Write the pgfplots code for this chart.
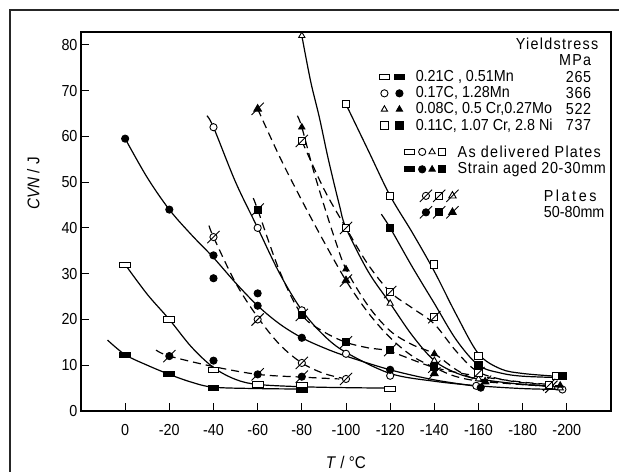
\documentclass[border=0pt]{standalone}
\usepackage{fontspec}
\setmainfont{Liberation Sans}[FakeStretch=0.9]
\newfontfamily\spacedA{Liberation Sans}[FakeStretch=0.9, LetterSpace=8]
\newfontfamily\spacedB{Liberation Sans}[FakeStretch=0.9, LetterSpace=4]
\newfontfamily\spacedC{Liberation Sans}[FakeStretch=0.9, LetterSpace=16]
\usepackage{pgfplots}
\pgfplotsset{compat=1.18}

% wide rectangle (0.21C) and slashed marks for the thick plates
\pgfdeclareplotmark{wrect}{%
  \pgfpathrectangle{\pgfqpoint{-1.5\pgfplotmarksize}{-0.7\pgfplotmarksize}}{\pgfqpoint{3\pgfplotmarksize}{1.4\pgfplotmarksize}}%
  \pgfusepathqfillstroke}
\pgfdeclareplotmark{scirc}{%
  \pgfpathcircle{\pgfpointorigin}{\pgfplotmarksize}\pgfusepathqfillstroke
  \pgfpathmoveto{\pgfqpoint{-1.7\pgfplotmarksize}{-1.7\pgfplotmarksize}}%
  \pgfpathlineto{\pgfqpoint{1.7\pgfplotmarksize}{1.7\pgfplotmarksize}}%
  \pgfusepathqstroke}
\pgfdeclareplotmark{ssq}{%
  \pgfpathrectangle{\pgfqpoint{-\pgfplotmarksize}{-\pgfplotmarksize}}{\pgfqpoint{2\pgfplotmarksize}{2\pgfplotmarksize}}%
  \pgfusepathqfillstroke
  \pgfpathmoveto{\pgfqpoint{-1.7\pgfplotmarksize}{-1.7\pgfplotmarksize}}%
  \pgfpathlineto{\pgfqpoint{1.7\pgfplotmarksize}{1.7\pgfplotmarksize}}%
  \pgfusepathqstroke}
\pgfdeclareplotmark{stri}{%
  \pgfpathmoveto{\pgfqpoint{0pt}{1.2\pgfplotmarksize}}%
  \pgfpathlineto{\pgfqpoint{-1.05\pgfplotmarksize}{-0.6\pgfplotmarksize}}%
  \pgfpathlineto{\pgfqpoint{1.05\pgfplotmarksize}{-0.6\pgfplotmarksize}}%
  \pgfpathclose\pgfusepathqfillstroke
  \pgfpathmoveto{\pgfqpoint{-1.7\pgfplotmarksize}{-1.7\pgfplotmarksize}}%
  \pgfpathlineto{\pgfqpoint{1.7\pgfplotmarksize}{1.7\pgfplotmarksize}}%
  \pgfusepathqstroke}

\pgfplotsset{
  sol/.style={black, line width=1.2bp, smooth, tension=0.55, no marks},
  dsh/.style={black, line width=1.2bp, smooth, tension=0.55, no marks, dash pattern=on 8bp off 5bp},
  mo/.style={only marks, mark=#1, mark size=3.6bp, mark options={solid, fill=white, draw=black, line width=0.9bp}},
  mf/.style={only marks, mark=#1, mark size=3.6bp, mark options={solid, fill=black, draw=black, line width=0.9bp}},
}

\begin{document}
\begin{tikzpicture}[font=\fontsize{16}{18}\selectfont]
\useasboundingbox (0,0) rectangle (619bp,472bp);
\draw[line width=1.2bp, black!85] (10bp,0) -- (10bp,462bp) -- (619bp,462bp);
\begin{axis}[
  at={(81bp,61bp)}, anchor=south west,
  scale only axis, width=530bp, height=379bp,
  xmin=-220, xmax=20, x dir=reverse,
  ymin=0, ymax=82.8,
  xtick={0,-20,-40,-60,-80,-100,-120,-140,-160,-180,-200},
  xticklabels={0,-20,-40,-60,-80,-100,-120,-140,-160,-180,-200},
  ytick={0,10,20,30,40,50,60,70,80},
  yticklabels={0,10,20,30,40,50,60,70,80},
  xtick pos=bottom, ytick pos=left,
  tick align=inside, major tick length=8bp,
  every tick/.style={black, line width=0.9bp},
  axis line style={line width=1.1bp},
  tick label style={font=\fontsize{16}{18}\selectfont},
  xticklabel style={yshift=-10bp},
  label style={font=\fontsize{17}{19}\selectfont},
  xlabel={\textit{T} / °C},
  xlabel style={at={(axis description cs:0.5,0)}, anchor=center, yshift=-51bp},
  ylabel={\textit{CVN} / J},
  ylabel style={at={(axis description cs:-0.09,0.6)}, anchor=center},
  clip=false,
]
% ---- curves: solid = 20-30 mm plates, dashed = 50-80 mm plates
\addplot[sol] coordinates {(0,32)(-10,25.5)(-20,20)(-30,14)(-40,9.5)(-50,6.9)(-60,5.8)(-80,5.3)(-100,5.1)(-120,5)};
\addplot[sol] coordinates {(8,15.5)(0,12.3)(-10,10)(-20,8)(-30,6.3)(-40,5.2)(-60,4.9)(-80,4.8)};
\addplot[dsh] coordinates {(-14,13.3)(-20,12)(-40,9.7)(-60,8)(-80,7.4)(-97,7)};
\addplot[dsh] coordinates {(-38,40.5)(-40,38)(-50,28)(-60,20.5)(-70,14.5)(-80,10.5)(-90,8.2)(-100,7)};
\addplot[sol] coordinates {(0,59.5)(-10,51)(-20,44)(-30,38.5)(-40,33.5)(-50,28)(-60,23)(-70,19)(-80,16)(-90,13.8)(-100,12)(-120,9)(-140,6.8)(-162,5.2)};
\addplot[sol] coordinates {(-37,64.5)(-40,62)(-50,50)(-60,40)(-70,30)(-80,22)(-90,16.5)(-100,12.8)(-120,8.2)(-140,6.5)(-160,5.5)(-180,4.9)(-197,4.7)};
\addplot[sol] coordinates {(-80,82)(-84,72)(-88,64)(-92,55)(-97,45)(-100,40)(-110,30.5)(-120,23.5)(-130,16.5)(-140,11)(-150,8.3)(-160,7)(-180,5.8)(-197,5.3)};
\addplot[sol] coordinates {(-100,67)(-110,57)(-120,47)(-130,39)(-140,30.5)(-150,21)(-160,12.5)(-170,9.2)(-180,8.2)(-195,7.6)};
\addplot[sol] coordinates {(-116,43)(-120,40)(-130,31.5)(-140,23.5)(-150,15.5)(-160,10)(-170,8.3)(-180,7.6)(-197,7.3)};
\addplot[dsh] coordinates {(-80,59)(-90,48.5)(-100,40)(-110,32)(-120,26)(-130,22.5)(-140,19)(-150,13)(-160,8.5)(-175,6.5)(-193,5.7)};
\addplot[dsh] coordinates {(-78,64.5)(-80,62)(-85,53)(-90,45)(-95,37.5)(-100,31)(-110,23)(-120,17.5)(-130,14.5)(-140,12.5)(-150,9)(-160,6.8)(-180,5.8)(-197,5.5)};
\addplot[dsh] coordinates {(-60,66)(-70,55.5)(-80,46)(-90,37)(-100,28.5)(-110,21.5)(-120,16)(-130,12)(-140,9.5)(-150,7.5)(-163,6.4)(-195,5.3)};
\addplot[dsh] coordinates {(-58,46.5)(-60,44)(-70,30.5)(-80,21)(-90,17.3)(-100,15)(-110,13.8)(-120,13)(-140,9.5)(-160,7.6)(-180,6.3)(-193,5.8)};
% ---- measured points
\addplot[mo=wrect] coordinates {(0,32)(-20,20)(-40,9)(-60,5.8)(-80,5.6)(-120,4.8)};
\addplot[mf=wrect] coordinates {(0,12.3)(-20,8)(-40,5.1)(-80,4.7)};
\addplot[mo=*] coordinates {(-40,62)(-60,40)(-80,22)(-100,12.5)(-120,7.7)(-159,5.5)(-198,4.7)};
\addplot[mf=*] coordinates {(0,59.5)(-20,44)(-40,34)(-40,29)(-40,11)(-60,25.7)(-60,23)(-80,16)(-120,9)(-161,5.1)};
\addplot[mo=scirc] coordinates {(-40,38)(-60,20)(-80,10.5)(-100,7)};
\addplot[mf=scirc] coordinates {(-20,12)(-60,8)(-80,7.5)};
\addplot[mo=triangle*] coordinates {(-80,82)(-120,23.5)(-140,11)(-160,7)(-197,5)};
\addplot[mf=triangle*] coordinates {(-80,62)(-100,31)(-140,12.5)(-197,5.6)};
\addplot[mo=stri] coordinates {(-193,5.3)};
\addplot[mf=stri] coordinates {(-60,66)(-100,28.5)(-140,8.2)(-163,6.4)};
\addplot[mo=square*] coordinates {(-100,67)(-120,47)(-140,32)(-160,12)(-195,7.6)};
\addplot[mf=square*] coordinates {(-120,40)(-160,10)(-198,7.6)};
\addplot[mo=ssq] coordinates {(-80,59)(-100,40)(-120,26)(-140,20.5)(-160,8.3)(-192,5.7)};
\addplot[mf=ssq] coordinates {(-60,44)(-80,21)(-100,15)(-120,13.3)(-140,9.7)};
% ---- key symbols
\addplot[mo=wrect] coordinates {(-117.4,72.9)(-128.7,56.6)};
\addplot[mf=wrect] coordinates {(-124.2,72.9)(-128.7,52.8)};
\addplot[mo=*] coordinates {(-117.4,69.4)(-134.5,56.6)};
\addplot[mf=*] coordinates {(-124.2,69.4)(-134.5,52.8)};
\addplot[mo=triangle*] coordinates {(-117.4,65.9)(-139,56.6)};
\addplot[mf=triangle*] coordinates {(-124.2,65.9)(-139,52.8)};
\addplot[mo=square*] coordinates {(-117.4,62.4)(-143.6,56.6)};
\addplot[mf=square*] coordinates {(-124.2,62.4)(-143.6,52.8)};
\addplot[mo=scirc] coordinates {(-136.2,47)};
\addplot[mf=scirc] coordinates {(-136.2,43.4)};
\addplot[mo=ssq] coordinates {(-142.2,47)};
\addplot[mf=ssq] coordinates {(-142.2,43.4)};
\addplot[mo=stri] coordinates {(-148.2,47)};
\addplot[mf=stri] coordinates {(-148.2,43.4)};
% ---- key text
\node[anchor=east, font={\fontsize{16}{18}\spacedA}] at (axis cs:-215.8,80.3) {Yieldstress};
\node[anchor=east, font={\fontsize{16}{18}\spacedA}] at (axis cs:-212.6,76.6) {MPa};
\node[anchor=west] at (axis cs:-130,72.9) {0.21C , 0.51Mn};
\node[anchor=west] at (axis cs:-130,69.4) {0.17C, 1.28Mn};
\node[anchor=west] at (axis cs:-130,65.9) {0.08C, 0.5 Cr,0.27Mo};
\node[anchor=west] at (axis cs:-130,62.4) {0.11C, 1.07 Cr, 2.8 Ni};
\node[anchor=east, font={\fontsize{16}{18}\spacedB}] at (axis cs:-212.6,72.9) {265};
\node[anchor=east, font={\fontsize{16}{18}\spacedB}] at (axis cs:-212.6,69.4) {366};
\node[anchor=east, font={\fontsize{16}{18}\spacedB}] at (axis cs:-212.6,65.9) {522};
\node[anchor=east, font={\fontsize{16}{18}\spacedB}] at (axis cs:-212.6,62.4) {737};
\node[anchor=west, font={\fontsize{16}{18}\spacedA}] at (axis cs:-149,56.6) {As delivered Plates};
\node[anchor=west, font={\fontsize{16}{18}\spacedB}] at (axis cs:-149,52.8) {Strain aged 20-30mm};
\node[anchor=west, font={\fontsize{16}{18}\spacedC}] at (axis cs:-188,47) {Plates};
\node[anchor=west] at (axis cs:-188,43.4) {50-80mm};
\end{axis}
\end{tikzpicture}
\end{document}
